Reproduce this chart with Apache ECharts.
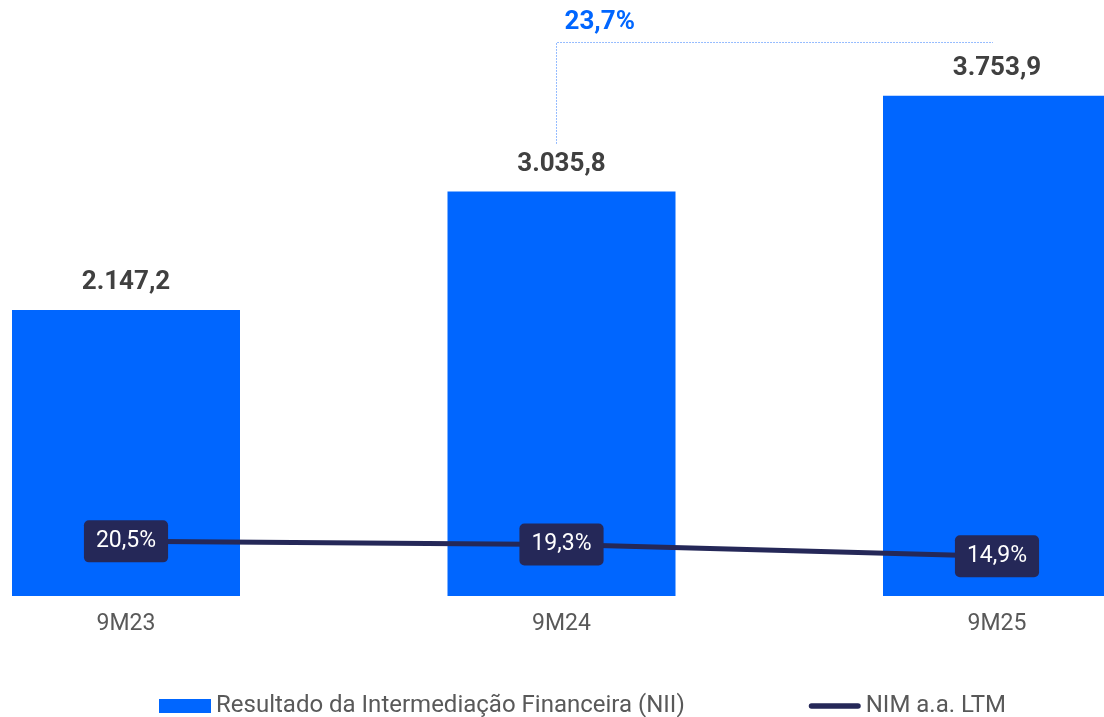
<!DOCTYPE html>
<html>
<head>
<meta charset="utf-8">
<script src="https://cdn.jsdelivr.net/npm/echarts@6/dist/echarts.min.js"></script>
<style>
  html, body { margin: 0; padding: 0; background: #fff; }
  #chart { width: 1104px; height: 717px; }
</style>
</head>
<body>
<div id="chart"></div>
<script>
const categories = ['9M23', '9M24', '9M25'];
const niiValues = [2147.2, 3035.8, 3753.9];
const nimValues = [20.5, 19.3, 14.9];
const growthLabel = '23,7%';

const blue = '#0066ff';
const navy = '#252858';

// pt-BR number format: 3.035,8
const fmtBR = v => {
  const [i, d] = v.toFixed(1).split('.');
  return i.replace(/\B(?=(\d{3})+(?!\d))/g, '.') + ',' + d;
};

const chart = echarts.init(document.getElementById('chart'));

chart.setOption({
  animation: false,
  textStyle: { fontFamily: 'Roboto' },
  grid: { left: 126, right: 107, top: 63, bottom: 121 },
  legend: {
    bottom: -1,
    left: 159,
    padding: 0,
    itemGap: 124,
    itemWidth: 52,
    itemHeight: 14,
    textStyle: { fontSize: 24, color: '#595959', fontFamily: 'Roboto' },
    data: [
      { name: 'Resultado da Intermediação Financeira (NII)', icon: 'rect' },
      { name: 'NIM a.a. LTM', icon: 'path://M3,0 L53,0 A3,3 0 0 1 53,6 L3,6 A3,3 0 0 1 3,0 Z' }
    ]
  },
  xAxis: {
    type: 'category',
    data: categories,
    boundaryGap: false,
    axisLine: { show: false },
    axisTick: { show: false },
    axisLabel: { fontSize: 23, color: '#595959', margin: 17 }
  },
  yAxis: [
    { type: 'value', min: 0, max: 4000, show: false },
    { type: 'value', min: 0, max: 200, show: false }
  ],
  series: [
    {
      name: 'Resultado da Intermediação Financeira (NII)',
      type: 'bar',
      data: niiValues,
      barWidth: 228,
      clip: false,
      itemStyle: { color: blue },
      label: {
        show: true,
        position: 'top',
        distance: 14,
        fontSize: 26,
        fontWeight: 'bold',
        color: '#404040',
        formatter: p => fmtBR(p.value)
      }
    },
    {
      name: 'NIM a.a. LTM',
      type: 'line',
      yAxisIndex: 1,
      data: nimValues,
      symbol: 'circle',
      symbolSize: 1,
      itemStyle: { color: navy },
      lineStyle: { color: navy, width: 5 },
      label: {
        show: true,
        position: 'inside',
        color: '#fff',
        fontSize: 23,
        backgroundColor: navy,
        borderRadius: 5,
        padding: [10, 12, 9, 12],
        formatter: p => p.value.toFixed(1).replace('.', ',') + '%'
      }
    }
  ]
});

// growth bracket between 9M24 and 9M25
const [x1, y1] = chart.convertToPixel({ seriesIndex: 0 }, [1, niiValues[1]]);
const [x2] = chart.convertToPixel({ seriesIndex: 0 }, [2, niiValues[2]]);
const bx = Math.round(x1 - 6) + 0.5;
const topY = 42.5;
chart.setOption({
  graphic: [
    {
      type: 'polyline',
      shape: { points: [[bx, y1 - 48], [bx, topY], [x2 - 4, topY]] },
      style: { stroke: '#2f7bff', lineWidth: 1, lineDash: [1, 2], fill: null }
    },
    {
      type: 'text',
      x: bx + 8,
      y: topY - 7,
      style: {
        text: growthLabel,
        fill: blue,
        font: 'bold 26px Roboto',
        textVerticalAlign: 'bottom'
      }
    }
  ]
});
</script>
</body>
</html>
